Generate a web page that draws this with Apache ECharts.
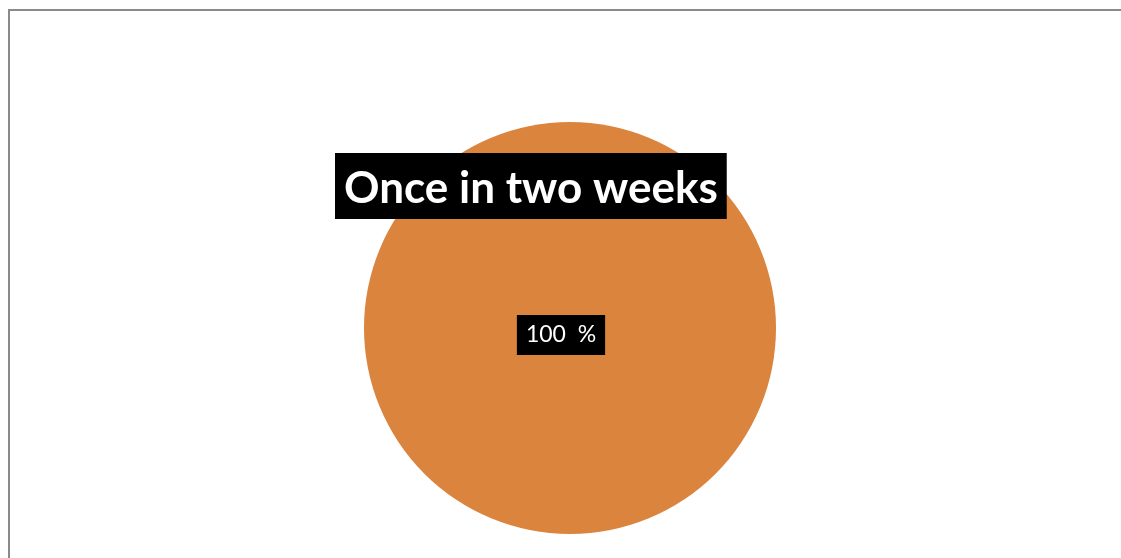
<!DOCTYPE html>
<html>
<head>
<meta charset="utf-8">
<script src="https://cdn.jsdelivr.net/npm/echarts@6/dist/echarts.min.js"></script>
<style>
  html, body { margin: 0; padding: 0; background: #fff; }
  #chart { width: 1121px; height: 558px; }
</style>
</head>
<body>
<div id="chart"></div>
<script>
// Survey answer share
const categories = ['Once in two weeks'];
const values = [100];
const sliceColors = ['#DB843D'];

const chart = echarts.init(document.getElementById('chart'));
chart.setOption({
  animation: false,
  backgroundColor: '#ffffff',
  title: {
    text: categories[0],
    left: 335,
    top: 153,
    padding: [12, 9, 7, 9],
    backgroundColor: '#000000',
    textStyle: {
      color: '#ffffff',
      fontFamily: 'Lato',
      fontWeight: 'bold',
      fontSize: 44,
      lineHeight: 47
    }
  },
  graphic: [{
    type: 'rect',
    shape: { x: 9, y: 10, width: 1200, height: 600 },
    style: { fill: 'none', stroke: '#8a8a8a', lineWidth: 2 },
    z: -1
  }],
  series: [{
    type: 'pie',
    center: [570, 328],
    radius: [0, 206],
    startAngle: 90,
    silent: true,
    data: categories.map((name, i) => ({
      name,
      value: values[i],
      itemStyle: { color: sliceColors[i] }
    })),
    label: {
      show: true,
      position: 'center',
      offset: [-9, 7],
      formatter: p => Math.round(p.percent) + '  %',
      color: '#ffffff',
      fontFamily: 'Lato',
      fontSize: 23,
      backgroundColor: '#000000',
      padding: [9, 9, 8, 9]
    },
    labelLine: { show: false }
  }]
});
</script>
</body>
</html>
